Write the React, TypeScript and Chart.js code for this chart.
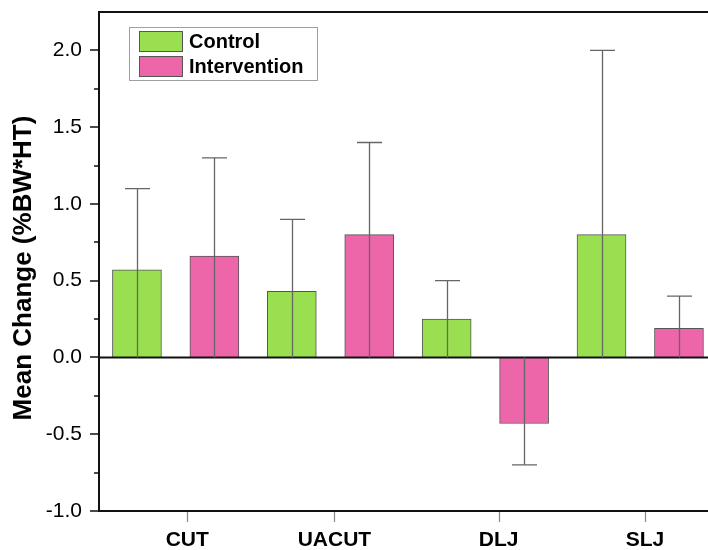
import React, { useEffect, useRef } from "react";
import { Chart, registerables } from "chart.js";

Chart.register(...registerables);

const CATEGORIES = ["CUT", "UACUT", "DLJ", "SLJ"];
const CATEGORY_TICK_AT = [0.65, 2.55, 4.67, 6.56];
const CONTROL_AT = [0, 2, 4, 6];
const INTERVENTION_AT = [1, 3, 5, 7];
const CONTROL = [0.57, 0.43, 0.25, 0.8];
const CONTROL_ERR = [0.53, 0.47, 0.25, 1.2];
const INTERVENTION = [0.66, 0.8, -0.43, 0.19];
const INTERVENTION_ERR = [0.64, 0.6, 0.27, 0.21];
const Y_MAJOR = [-1.0, -0.5, 0.0, 0.5, 1.0, 1.5, 2.0];
const Y_MINOR = [-0.75, -0.25, 0.25, 0.75, 1.25, 1.75];
const Y_TITLE = "Mean Change (%BW*HT)";
const SERIES = ["Control", "Intervention"];

const GREEN = "#9ADF50";
const PINK = "#EE66AA";
const FONT = "'Liberation Sans', Arial, sans-serif";

const overlay = {
  id: "overlay",
  afterDatasetsDraw(chart: any) {
    const { ctx, chartArea: a, scales } = chart;
    const x = scales.x;
    const y = scales.y;
    const y0 = y.getPixelForValue(0);
    ctx.save();
    ctx.strokeStyle = "#111";
    ctx.lineWidth = 2;
    ctx.beginPath();
    ctx.moveTo(a.left, y0);
    ctx.lineTo(a.right, y0);
    ctx.stroke();
    ctx.strokeStyle = "#666";
    ctx.lineWidth = 1.3;
    const groups = [
      { at: CONTROL_AT, v: CONTROL, e: CONTROL_ERR },
      { at: INTERVENTION_AT, v: INTERVENTION, e: INTERVENTION_ERR },
    ];
    for (const g of groups) {
      g.v.forEach((v, i) => {
        const end = v >= 0 ? v + g.e[i] : v - g.e[i];
        const px = Math.round(x.getPixelForValue(g.at[i])) + 0.5;
        const py = y.getPixelForValue(end);
        ctx.beginPath();
        ctx.moveTo(px, y0);
        ctx.lineTo(px, py);
        ctx.moveTo(px - 12.5, py);
        ctx.lineTo(px + 12.5, py);
        ctx.stroke();
      });
    }
    ctx.restore();
  },
  afterDraw(chart: any) {
    const { ctx, chartArea: a, scales } = chart;
    const x = scales.x;
    const y = scales.y;
    ctx.save();
    ctx.strokeStyle = "#111";
    ctx.lineWidth = 2;
    ctx.beginPath();
    ctx.moveTo(a.right, a.top);
    ctx.lineTo(a.left, a.top);
    ctx.lineTo(a.left, a.bottom);
    ctx.lineTo(a.right, a.bottom);
    ctx.stroke();
    ctx.lineWidth = 1.5;
    ctx.beginPath();
    for (const v of Y_MAJOR) {
      const py = Math.round(y.getPixelForValue(v));
      ctx.moveTo(a.left - 9, py);
      ctx.lineTo(a.left, py);
    }
    for (const v of Y_MINOR) {
      const py = Math.round(y.getPixelForValue(v));
      ctx.moveTo(a.left - 5, py);
      ctx.lineTo(a.left, py);
    }
    ctx.stroke();
    ctx.strokeStyle = "#888";
    ctx.lineWidth = 1.2;
    ctx.beginPath();
    for (const v of CATEGORY_TICK_AT) {
      const px = Math.round(x.getPixelForValue(v)) + 0.5;
      ctx.moveTo(px, a.bottom + 1);
      ctx.lineTo(px, a.bottom + 11);
    }
    ctx.stroke();
    ctx.fillStyle = "#000";
    ctx.font = `bold 26px ${FONT}`;
    ctx.textAlign = "center";
    ctx.textBaseline = "middle";
    ctx.translate(24, 268);
    ctx.rotate(-Math.PI / 2);
    ctx.fillText(Y_TITLE, 0, 0);
    ctx.setTransform(1, 0, 0, 1, 0, 0);
    const lx = 129, ly = 27, lw = 188, lh = 53;
    ctx.strokeStyle = "#A0A0A0";
    ctx.lineWidth = 1;
    ctx.strokeRect(lx + 0.5, ly + 0.5, lw, lh);
    const colors = [GREEN, PINK];
    SERIES.forEach((name, i) => {
      const sy = 31 + i * 25;
      ctx.fillStyle = colors[i];
      ctx.fillRect(139, sy, 44, 21);
      ctx.strokeStyle = "#555";
      ctx.strokeRect(139.5, sy + 0.5, 43, 20);
      ctx.fillStyle = "#000";
      ctx.font = `bold 20px ${FONT}`;
      ctx.textAlign = "left";
      ctx.textBaseline = "middle";
      ctx.fillText(name, 189, sy + 11);
    });
    ctx.restore();
  },
};

export default function App() {
  const ref = useRef<HTMLCanvasElement | null>(null);
  useEffect(() => {
    if (!ref.current) return;
    const chart = new Chart(ref.current, {
      type: "bar",
      data: {
        datasets: [
          {
            label: SERIES[0],
            data: CONTROL.map((v, i) => ({ x: CONTROL_AT[i], y: v })),
            backgroundColor: GREEN,
            borderColor: "#555",
            borderWidth: 1,
            grouped: false,
            barThickness: 49,
          } as any,
          {
            label: SERIES[1],
            data: INTERVENTION.map((v, i) => ({ x: INTERVENTION_AT[i], y: v })),
            backgroundColor: PINK,
            borderColor: "#555",
            borderWidth: 1,
            grouped: false,
            barThickness: 49,
          } as any,
        ],
      },
      options: {
        responsive: false,
        animation: false,
        layout: { padding: { top: 12, left: 0, right: 0, bottom: 0 } },
        plugins: {
          legend: { display: false },
          tooltip: { enabled: false },
        },
        scales: {
          x: {
            type: "linear",
            min: -0.49,
            max: 7.375,
            offset: false,
            grid: { display: false, drawTicks: true, tickLength: 10 },
            border: { display: false },
            afterBuildTicks: (s: any) => {
              s.ticks = CATEGORY_TICK_AT.map((v) => ({ value: v }));
            },
            afterFit: (s: any) => {
              s.height = 39;
              s.paddingLeft = 0;
              s.paddingRight = 0;
            },
            ticks: {
              autoSkip: false,
              maxRotation: 0,
              padding: 7,
              color: "#000",
              font: { family: FONT, size: 21, weight: "bold" },
              callback: (_v: any, i: number) => CATEGORIES[i],
            },
          },
          y: {
            type: "linear",
            min: -1,
            max: 2.25,
            grid: { display: false, drawTicks: true, tickLength: 9 },
            border: { display: false },
            afterBuildTicks: (s: any) => {
              s.ticks = Y_MAJOR.map((v) => ({ value: v }));
            },
            afterFit: (s: any) => {
              s.width = 99;
              s.paddingTop = 0;
              s.paddingBottom = 0;
            },
            ticks: {
              autoSkip: false,
              padding: 8,
              color: "#000",
              font: { family: FONT, size: 21 },
              callback: (v: any) => Number(v).toFixed(1),
            },
          },
        },
      },
      plugins: [overlay],
    } as any);
    return () => chart.destroy();
  }, []);
  return (
    <div style={{ position: "absolute", left: 0, top: 0, width: 708, height: 550, background: "#fff" }}>
      <canvas ref={ref} width={708} height={550} />
    </div>
  );
}
